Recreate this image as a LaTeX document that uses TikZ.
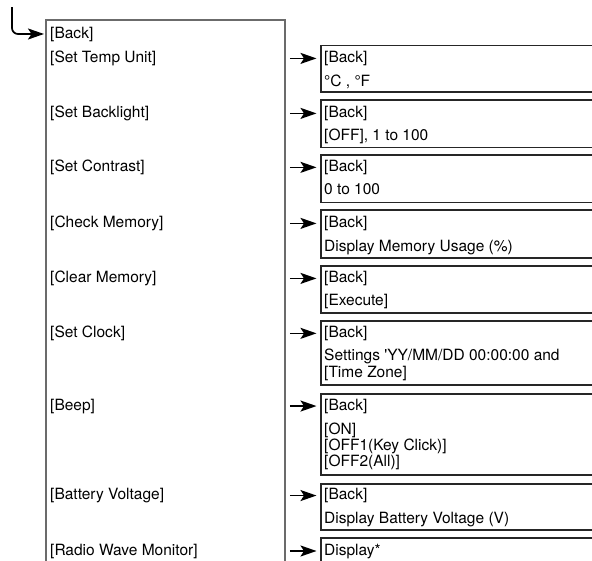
\documentclass[tikz,border=0pt]{standalone}
\usepackage{fontspec}
\setmainfont{TeX Gyre Heros}
\usetikzlibrary{arrows.meta}
\begin{document}
\begin{tikzpicture}[x=1pt,y=-1pt,
  txt/.style={anchor=base west, inner sep=0pt, font=\fontsize{15.5}{16}\selectfont},
  lboxst/.style={draw=black!58, line width=1.8pt, inner sep=0pt, anchor=north west},
  rboxst/.style={draw=black!85, line width=1.6pt, inner sep=0pt, anchor=north west, minimum width=300pt},
  arr/.style={-{Stealth[length=16pt,width=11pt,inset=3.5pt]}, line width=1.7pt},
]
\useasboundingbox (0,0) rectangle (592,560);
\clip (0,0) rectangle (592,560);

% main menu box
\node[lboxst, minimum width=239pt, minimum height=560pt] (lbox) at (45,19) {};
\node[txt] (L1) at (50,38) {[Back]};
\node[txt] (L2) at (50,62.5) {[Set Temp Unit]};
\node[txt] (L3) at (50,117.5) {[Set Backlight]};
\node[txt] (L4) at (50,171.5) {[Set Contrast]};
\node[txt] (L5) at (50,227.5) {[Check Memory]};
\node[txt] (L6) at (50,282.5) {[Clear Memory]};
\node[txt] (L7) at (50,337.5) {[Set Clock]};
\node[txt] (L8) at (50,410) {[Beep]};
\node[txt] (L9) at (50,499.5) {[Battery Voltage]};
\node[txt] (L10) at (50,555) {[Radio Wave Monitor]};

% entry arrow
\coordinate (start) at (12,7);
\draw[arr, rounded corners=6pt] (start) |- ([xshift=-1pt]lbox.west |- L1);

% sub boxes
\node[rboxst, minimum height=46.5pt] (r1) at (320,44.5) {};
\node[rboxst, minimum height=47.5pt] (r2) at (320,99) {};
\node[rboxst, minimum height=47.5pt] (r3) at (320,154) {};
\node[rboxst, minimum height=48pt] (r4) at (320,209) {};
\node[rboxst, minimum height=47pt] (r5) at (320,265) {};
\node[rboxst, minimum height=64pt] (r6) at (320,320) {};
\node[rboxst, minimum height=81pt] (r7) at (320,393) {};
\node[rboxst, minimum height=46pt] (r8) at (320,483) {};
\node[rboxst, minimum height=60pt] (r9) at (320,537) {};

\node[txt] (r1a) at (324,62.5) {[Back]};
\node[txt] (r1b) at (324,86.5) {°C , °F};
\node[txt] (r2a) at (324,117.5) {[Back]};
\node[txt] (r2b) at (324,140.5) {[OFF], 1 to 100};
\node[txt] (r3a) at (324,171.5) {[Back]};
\node[txt] (r3b) at (324,194.5) {0 to 100};
\node[txt] (r4a) at (324,227.5) {[Back]};
\node[txt] (r4b) at (324,251.5) {Display Memory Usage (\%)};
\node[txt] (r5a) at (324,282.5) {[Back]};
\node[txt] (r5b) at (324,305.5) {[Execute]};
\node[txt] (r6a) at (324,337.5) {[Back]};
\node[txt] (r6b) at (324,360) {Settings \textquotesingle YY/MM/DD 00:00:00 and};
\node[txt] (r6c) at (324,377.5) {[Time Zone]};
\node[txt] (r7a) at (324,410) {[Back]};
\node[txt] (r7b) at (324,434) {[ON]};
\node[txt] (r7c) at (324,450) {[OFF1(Key Click)]};
\node[txt] (r7d) at (324,466) {[OFF2(All)]};
\node[txt] (r8a) at (324,499.5) {[Back]};
\node[txt] (r8b) at (324,523) {Display Battery Voltage (V)};
\node[txt] (r9a) at (324,555.5) {Display*};

% arrows
\foreach \l/\r in {L2/r1,L3/r2,L4/r3,L5/r4,L6/r5,L7/r6,L8/r7,L9/r8,L10/r9}{
  \draw[arr] ([xshift=4pt]lbox.east |- \l) -- ([xshift=-3.5pt]\r.west |- \l);
}
\end{tikzpicture}
\end{document}
